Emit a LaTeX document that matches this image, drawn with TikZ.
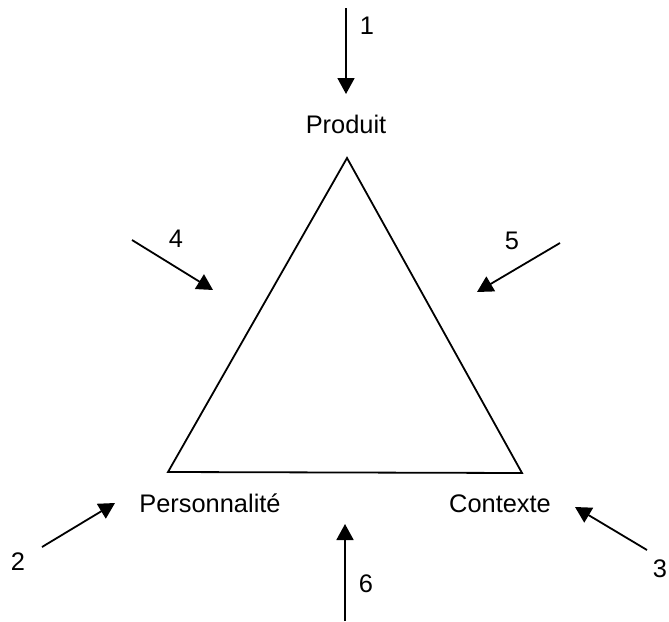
\documentclass[tikz,border=0pt]{standalone}
\usepackage{fontspec}
\setmainfont{Liberation Sans}
\usetikzlibrary{arrows.meta}
\tikzset{pin/.style={line width=0.9pt, -{Triangle[length=8pt,width=8.5pt]}},
  pole/.style={inner sep=0pt, anchor=base},
  num/.style={inner sep=0pt, anchor=base}}

\begin{document}
\begin{tikzpicture}[x=0.5pt, y=-0.5pt, font=\fontsize{12.7}{15}\selectfont]
  \useasboundingbox (0,0) rectangle (669,621);
  % triangle
  \coordinate (top) at (347,158);
  \coordinate (left) at (168,472);
  \coordinate (right) at (522,473);
  \draw[line width=0.9pt, line join=miter] (top) -- (left) -- (right) -- cycle;
  \node[pole] (produit) at (346,133) {Produit};
  \node[pole] (perso) at (210,512) {Personnalité};
  \node[pole] (ctx) at (500,512) {Contexte};
  % arrow ends
  \coordinate (s1) at (346,8);   \coordinate (e1) at (346,94);
  \coordinate (s2) at (42,547);  \coordinate (e2) at (115,503);
  \coordinate (s3) at (647,550); \coordinate (e3) at (575,507);
  \coordinate (s4) at (132,240); \coordinate (e4) at (213,290);
  \coordinate (s5) at (560,243); \coordinate (e5) at (477,292);
  \coordinate (s6) at (345,621); \coordinate (e6) at (345,524);
  \foreach \a/\b in {s1/e1, s2/e2, s3/e3, s4/e4, s5/e5, s6/e6}{\draw[pin] (\a) -- (\b);}
  \node[num] (n1) at (367,34) {1};
  \node[num] (n2) at (18,570) {2};
  \node[num] (n3) at (660,577) {3};
  \node[num] (n4) at (176,247) {4};
  \node[num] (n5) at (512,249) {5};
  \node[num] (n6) at (366,592) {6};
\end{tikzpicture}
\end{document}
